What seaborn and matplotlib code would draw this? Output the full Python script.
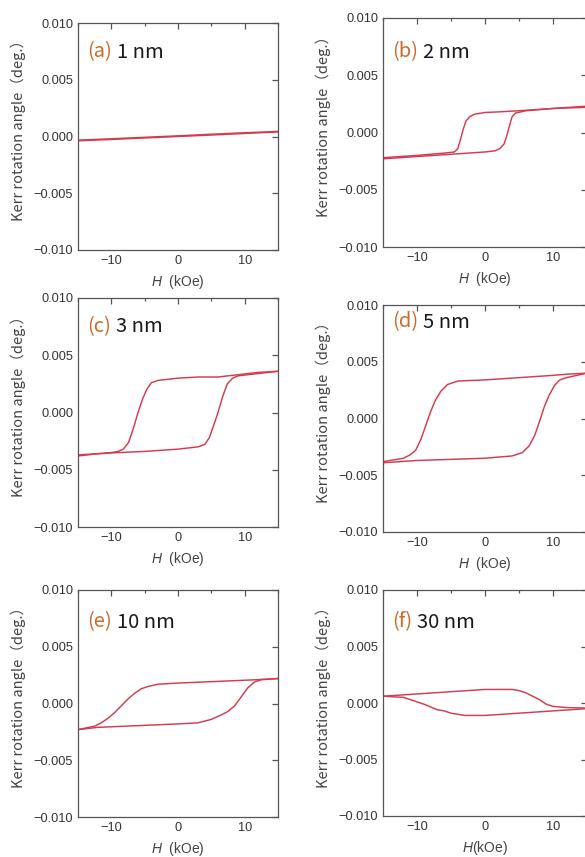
import numpy as np
import pandas as pd
import matplotlib
matplotlib.use('Agg')
import matplotlib.pyplot as plt
import seaborn as sns
from matplotlib.ticker import MultipleLocator, FuncFormatter

# ---------------- data ----------------
panel_tags = ['(a)', '(b)', '(c)', '(d)', '(e)', '(f)']
thicknesses = ['1 nm', '2 nm', '3 nm', '5 nm', '10 nm', '30 nm']
x_labels = ['$H$  (kOe)', '$H$  (kOe)', '$H$  (kOe)', '$H$  (kOe)', '$H$  (kOe)', '$H$(kOe)']
y_label = 'Kerr rotation angle（deg.）'

# (a) 1 nm
a_down_H = [15, 10, 5, 0, -5, -10, -15]
a_down_K = [0.00045, 0.00033, 0.0002, 0.00006, -0.00007, -0.0002, -0.00032]
a_up_H = [-15, -10, -5, 0, 5, 10, 15]
a_up_K = [-0.00038, -0.00026, -0.00013, 0.0, 0.00013, 0.00027, 0.0004]

# (b) 2 nm
b_down_H = [15, 10, 5, 2, 0, -1.5, -2.2, -2.8, -3.2, -3.6, -4.0, -4.5, -6, -10, -15]
b_down_K = [0.0022, 0.0021, 0.0019, 0.0018, 0.00175, 0.0016, 0.0014, 0.0010, 0.0003,
            -0.0006, -0.0014, -0.0017, -0.0018, -0.0020, -0.0022]
b_up_H = [-15, -10, -5, 0, 1.5, 2.2, 2.8, 3.2, 3.6, 4.0, 4.5, 6, 10, 15]
b_up_K = [-0.0023, -0.0021, -0.0019, -0.0017, -0.0016, -0.0014, -0.0010, -0.0003,
          0.0006, 0.0014, 0.0017, 0.0019, 0.0021, 0.0023]

# (c) 3 nm
c_down_H = [15, 12, 9, 6, 3, 0, -3, -4, -4.7, -5.3, -6, -6.7, -7.4, -8.2, -9, -10, -12, -15]
c_down_K = [0.0036, 0.0035, 0.0033, 0.0031, 0.0031, 0.0030, 0.0028, 0.0026, 0.0020, 0.0012,
            0.0000, -0.0014, -0.0026, -0.0032, -0.0034, -0.0035, -0.0036, -0.0037]
c_up_H = [-15, -12, -9, -5, 0, 3, 4, 4.7, 5.3, 6, 6.7, 7.4, 8.2, 9, 12, 15]
c_up_K = [-0.0038, -0.0036, -0.0035, -0.0034, -0.0032, -0.0030, -0.0028, -0.0022, -0.0012,
          0.0000, 0.0014, 0.0025, 0.0030, 0.0032, 0.0034, 0.0036]

# (d) 5 nm
d_down_H = [15, 12, 10, 5, 0, -4, -5.5, -6.5, -7.3, -8, -8.7, -9.4, -10.2, -11, -12, -15]
d_down_K = [0.0040, 0.0039, 0.0038, 0.0036, 0.0034, 0.0033, 0.0030, 0.0024, 0.0016, 0.0006,
            -0.0006, -0.0018, -0.0028, -0.0032, -0.0035, -0.0038]
d_up_H = [-15, -10, -5, 0, 4, 5.5, 6.5, 7.3, 8, 8.7, 9.4, 10.2, 11, 12, 15]
d_up_K = [-0.0039, -0.0037, -0.0036, -0.0035, -0.0033, -0.0030, -0.0024, -0.0015, -0.0003,
          0.0010, 0.0020, 0.0029, 0.0034, 0.0036, 0.0040]

# (e) 10 nm
e_down_H = [15, 12, 8, 4, 0, -3, -4.5, -5.5, -6.5, -7.5, -8.5, -9.5, -10.5, -11.5, -12.5, -15]
e_down_K = [0.0022, 0.0021, 0.0020, 0.0019, 0.0018, 0.0017, 0.0015, 0.0013, 0.0009, 0.0004,
            -0.0002, -0.0008, -0.0013, -0.0017, -0.0020, -0.0023]
e_up_H = [-15, -12, -8, -4, 0, 3, 5, 6.5, 7.5, 8.5, 9.5, 10.5, 11.5, 12.5, 15]
e_up_K = [-0.0023, -0.0021, -0.0020, -0.0019, -0.0018, -0.0017, -0.0014, -0.0010, -0.0007,
          -0.0002, 0.0006, 0.0014, 0.0019, 0.0021, 0.0022]

# (f) 30 nm
f_down_H = [15, 12, 10, 9, 8, 7, 6, 5, 4, 2, 0, -5, -10, -15]
f_down_K = [-0.00045, -0.0004, -0.0003, -0.0001, 0.0003, 0.0006, 0.0009, 0.0011, 0.0012,
            0.0012, 0.0012, 0.0010, 0.0008, 0.0006]
f_up_H = [-15, -12, -10, -9, -8, -7, -6, -5, -4, -3, 0, 5, 10, 15]
f_up_K = [0.0006, 0.0005, 0.0001, -0.0001, -0.00035, -0.0006, -0.0007, -0.0009, -0.0010,
          -0.0011, -0.0011, -0.0009, -0.0007, -0.0005]

branches = [
    (a_down_H, a_down_K, a_up_H, a_up_K),
    (b_down_H, b_down_K, b_up_H, b_up_K),
    (c_down_H, c_down_K, c_up_H, c_up_K),
    (d_down_H, d_down_K, d_up_H, d_up_K),
    (e_down_H, e_down_K, e_up_H, e_up_K),
    (f_down_H, f_down_K, f_up_H, f_up_K),
]

# ---------------- layout / style ----------------
W, H = 585, 857
# axes boxes in pixels: left, top, right, bottom
boxes = [
    (78, 23, 278, 250),
    (383, 18, 587, 247),
    (78, 298, 278, 527),
    (383, 305, 587, 532),
    (78, 590, 278, 817),
    (383, 590, 587, 816),
]
label_offsets_px = [29, 34, 29, 17, 32, 32]

sns.set_style('white')
plt.rcParams['font.family'] = ['Liberation Sans', 'DejaVu Sans']
plt.rcParams['mathtext.fontset'] = 'custom'
plt.rcParams['mathtext.it'] = 'Liberation Sans:italic'
plt.rcParams['mathtext.rm'] = 'Liberation Sans'

line_color = '#d63a4e'
spine_color = '#555555'
tag_color = '#cc6a2a'
label_font = ['Noto Sans CJK JP', 'DejaVu Sans']


def fmt_y(v, pos):
    return ('%.3f' % v).replace('-', '\u2212')


def fmt_x(v, pos):
    return ('%d' % round(v)).replace('-', '\u2212')


fig = plt.figure(figsize=(W / 100, H / 100), dpi=100)
fig.patch.set_facecolor('white')

for i, (dH, dK, uH, uK) in enumerate(branches):
    l, t, r, b = boxes[i]
    ax = fig.add_axes([l / W, 1 - b / H, (r - l) / W, (b - t) / H])
    df = pd.DataFrame({
        'H': list(dH) + list(uH),
        'K': list(dK) + list(uK),
        'branch': ['down'] * len(dH) + ['up'] * len(uH),
    })
    sns.lineplot(data=df, x='H', y='K', units='branch', estimator=None, sort=False,
                 color=line_color, linewidth=1.05, ax=ax, legend=False)
    ax.set_xlim(-15, 15)
    ax.set_ylim(-0.010, 0.010)
    ax.xaxis.set_major_locator(MultipleLocator(10))
    ax.xaxis.set_minor_locator(MultipleLocator(5))
    ax.yaxis.set_major_locator(MultipleLocator(0.005))
    ax.yaxis.set_major_formatter(FuncFormatter(fmt_y))
    ax.xaxis.set_major_formatter(FuncFormatter(fmt_x))
    ax.tick_params(which='both', direction='in', top=True, right=True,
                   color=spine_color, width=0.9)
    ax.tick_params(which='major', length=4.5, labelsize=9.2, labelcolor='#333333', pad=3.5)
    ax.tick_params(which='minor', length=2.5)
    for s in ax.spines.values():
        s.set_color(spine_color)
        s.set_linewidth(0.9)
        s.set_visible(True)
    ax.set_xlabel(x_labels[i], fontsize=10, color='#444444')
    ax.set_ylabel(y_label, fontsize=10.5, color='#444444', family=label_font)
    ax.xaxis.set_label_coords(0.5, -0.10)
    ax.yaxis.set_label_coords(-0.26 * 200 / (r - l), 0.54)

    ty = 1 - label_offsets_px[i] / (b - t)
    t1 = ax.text(0.045, ty, panel_tags[i], transform=ax.transAxes, fontsize=14.5,
                 color=tag_color, va='center', ha='left', family=label_font)
    ax.annotate(thicknesses[i], xy=(1, 0.5), xycoords=t1, xytext=(3.5, 0),
                textcoords='offset points', fontsize=14.5, color='#1a1a1a',
                va='center', ha='left', family=label_font)

fig.savefig('out.png', dpi=100, facecolor='white')
